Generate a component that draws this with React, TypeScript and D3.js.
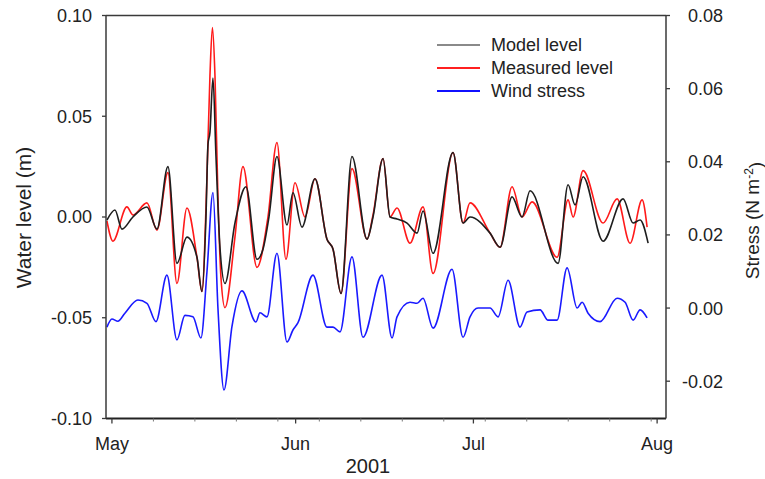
import React from "react";
import * as d3 from "d3";

const W = 765;
const H = 479;

// Axis ticks / labels
const leftTicks = [-0.1, -0.05, 0.0, 0.05, 0.1];
const rightTicks = [-0.02, 0.0, 0.02, 0.04, 0.06, 0.08];
const monthStarts = ["2001-05-01", "2001-06-01", "2001-07-01", "2001-08-01"];
const monthLabels = ["May", "Jun", "Jul", "Aug"];
const yearLabel = "2001";
const seriesNames = ["Model level", "Measured level", "Wind stress"];

// [days since 1 May 2001, value]
const modelLevel: [number, number][] = [
  [-0.84, -0.0015], [0.51, 0.0035], [1.69, -0.006], [3.54, 0.0], [5.91, 0.005],
  [7.6, -0.006], [9.45, 0.025], [10.97, -0.023], [12.66, -0.01], [14.35, -0.02],
  [15.19, -0.037], [15.87, 0.0], [16.21, 0.036], [16.54, 0.042], [17.05, 0.069],
  [17.56, 0.03], [18.23, -0.015], [19.08, -0.033], [20.76, -0.003], [22.62, 0.015],
  [24.48, -0.021], [25.49, -0.016], [26.5, 0.0], [27.85, 0.03], [29.54, -0.004],
  [30.55, 0.012], [32.07, -0.005], [34.27, 0.019], [36.29, -0.011], [37.31, -0.016],
  [38.66, -0.038], [40.51, 0.03], [43.05, -0.011], [44.06, 0.0], [45.75, 0.029],
  [46.93, 0.0], [48.11, -0.001], [49.8, -0.003], [51.49, -0.008], [52.5, 0.003],
  [54.19, -0.018], [57.56, 0.032], [59.25, -0.003], [60.43, 0.0], [63.81, -0.008],
  [65.5, -0.015], [67.52, 0.01], [69.21, 0.0], [70.56, 0.013], [75.29, -0.023],
  [76.97, 0.016], [78.16, 0.006], [79.51, 0.02], [82.88, -0.012], [86.26, 0.009],
  [87.95, -0.003], [89.13, -0.0015], [90.48, -0.013],
];

const measuredLevel: [number, number][] = [
  [-0.84, -0.002], [0.17, -0.012], [2.53, 0.005], [3.54, 0.001], [5.91, 0.007],
  [7.6, -0.0065], [9.45, 0.022], [10.97, -0.033], [12.66, 0.0045], [14.35, -0.02],
  [15.19, -0.037], [16.04, 0.02], [16.54, 0.07], [16.96, 0.094], [17.39, 0.07],
  [17.89, 0.01], [18.4, -0.03], [19.08, -0.045], [20.76, -0.01], [22.11, 0.025],
  [24.48, -0.025], [26.33, 0.0], [27.85, 0.037], [29.37, -0.021], [30.89, 0.017],
  [32.58, 0.0], [34.27, 0.019], [36.29, -0.011], [37.31, -0.016], [38.66, -0.038],
  [40.51, 0.024], [43.05, -0.011], [44.06, 0.001], [45.75, 0.029], [46.93, 0.0],
  [48.11, 0.0045], [50.3, -0.013], [52.5, 0.005], [54.19, -0.028], [57.56, 0.032],
  [59.25, -0.003], [60.43, 0.007], [63.81, -0.008], [65.5, -0.015], [67.52, 0.015],
  [69.21, 0.0], [70.9, 0.0075], [75.12, -0.02], [76.97, 0.0085], [77.82, 0.0],
  [79.51, 0.023], [82.88, -0.003], [85.25, 0.009], [87.44, -0.013], [89.47, 0.0085],
  [90.31, -0.005],
];

const windStress: [number, number][] = [
  [-0.84, -0.0052], [0, -0.003], [1.01, -0.0036], [2.19, -0.0014], [4.39, 0.0022],
  [5.91, 0.0013], [7.43, -0.0037], [9.28, 0.009], [10.97, -0.0087], [12.32, -0.002],
  [13.67, -0.0024], [15.02, -0.0082], [16.04, 0.01], [17.05, 0.0316], [17.89, 0.0],
  [18.91, -0.0224], [20.26, -0.005], [21.94, 0.0047], [24.31, -0.0038], [24.98, -0.0013],
  [26.16, -0.0024], [27.85, 0.015], [29.54, -0.0093], [30.55, -0.006], [31.4, -0.004],
  [33.93, 0.009], [36.29, -0.0052], [37.31, -0.0052], [38.49, -0.0065], [40.51, 0.014],
  [42.37, -0.008], [45.58, 0.009], [47.27, -0.0082], [48.11, -0.0024], [50.3, 0.0016],
  [51.49, 0.0013], [52.5, 0.0027], [54.19, -0.0055], [57.39, 0.0106], [59.25, -0.008],
  [60.43, -0.0024], [61.78, 0.0], [63.81, 0.0], [65.16, -0.0024], [66.85, 0.0076],
  [68.87, -0.0052], [70.05, -0.0011], [72.25, -0.0005], [73.6, -0.0033], [75.12, -0.0033],
  [76.81, 0.011], [78.5, 0.0], [79.34, 0.0016], [80.35, -0.0014], [82.38, -0.0037],
  [85.25, 0.0027], [86.6, 0.0016], [87.95, -0.0033], [89.13, -0.0005], [90.31, -0.0027],
];

const startDate = new Date(2001, 4, 1);
const toDate = (d: number) => new Date(startDate.getTime() + d * 864e5);

const FONT = "'Liberation Sans', Arial, Helvetica, sans-serif";
const TXT = "#222";
const AX = "#3a3a3a";

export default function App() {
  const left = 106, right = 666, top = 15.5, bottom = 418.5;
  const x = d3
    .scaleTime()
    .domain([new Date(2001, 3, 30), new Date(2001, 7, 2, 12)])
    .range([left, right]);
  const yL = d3.scaleLinear().domain([-0.1, 0.1]).range([bottom, top]);
  const yR = d3.scaleLinear().domain([-0.0302, 0.08]).range([bottom, top]);

  const lineL = d3
    .line<[number, number]>()
    .x((d) => x(toDate(d[0])))
    .y((d) => yL(d[1]))
    .curve(d3.curveMonotoneX);
  const lineR = d3
    .line<[number, number]>()
    .x((d) => x(toDate(d[0])))
    .y((d) => yR(d[1]))
    .curve(d3.curveMonotoneX);

  const weekly = d3.range(7, 93, 7).map(toDate);
  const months = monthStarts.map((s) => {
    const [yy, mm, dd] = s.split("-").map(Number);
    return new Date(yy, mm - 1, dd);
  });

  const f2 = d3.format(".2f");
  const fmt = (v: number) => f2(v).replace("\u2212", "-");
  const legendColors = ["#8a8a8a", "#ff2020", "#1010ff"];
  const legendY = [45, 68, 91];

  return (
    <svg width={W} height={H} style={{ display: "block", position: "absolute", left: 0, top: 0 }}>
      <rect width={W} height={H} fill="#fff" />

      {/* series */}
      <path d={lineR(windStress) || ""} fill="none" stroke="#1a1aff" strokeWidth={1.6} />
      <path d={lineL(measuredLevel) || ""} fill="none" stroke="#ff1a1a" strokeWidth={1.6} />
      <path d={lineL(modelLevel) || ""} fill="none" stroke="#1e1e1e" strokeWidth={1.6} />

      {/* frame */}
      <line x1={left} x2={right} y1={top} y2={top} stroke={AX} strokeWidth={1.5} />
      <line x1={left} x2={right} y1={bottom} y2={bottom} stroke="#222" strokeWidth={2} />
      <line x1={left} x2={left} y1={top} y2={bottom} stroke={AX} strokeWidth={1.5} />
      <line x1={right} x2={right} y1={top} y2={bottom} stroke={AX} strokeWidth={1.5} />

      {/* left axis */}
      {leftTicks.map((t) => (
        <g key={"l" + t}>
          <line x1={left - 4} x2={left} y1={yL(t)} y2={yL(t)} stroke={AX} strokeWidth={1.3} />
          <text x={92} y={yL(t)} dy="0.36em" textAnchor="end" fontSize={18} fontFamily={FONT} fill={TXT}>
            {fmt(t)}
          </text>
        </g>
      ))}

      {/* right axis */}
      {rightTicks.map((t) => (
        <g key={"r" + t}>
          <line x1={right} x2={right + 4} y1={yR(t)} y2={yR(t)} stroke={AX} strokeWidth={1.3} />
          <text x={723} y={yR(t)} dy="0.36em" textAnchor="end" fontSize={18} fontFamily={FONT} fill={TXT}>
            {fmt(t)}
          </text>
        </g>
      ))}

      {/* bottom axis */}
      {weekly.map((d, i) => (
        <line key={"w" + i} x1={x(d)} x2={x(d)} y1={bottom} y2={bottom + 3} stroke="#777" strokeWidth={1} />
      ))}
      {months.map((d, i) => (
        <g key={"m" + i}>
          <line x1={x(d)} x2={x(d)} y1={bottom} y2={bottom + 5} stroke={AX} strokeWidth={1.3} />
          <text x={x(d)} y={444} dy="0.36em" textAnchor="middle" fontSize={18} fontFamily={FONT} fill={TXT}>
            {monthLabels[i]}
          </text>
        </g>
      ))}
      <text x={368} y={466} dy="0.36em" textAnchor="middle" fontSize={20} fontFamily={FONT} fill={TXT}>
        {yearLabel}
      </text>

      {/* axis titles */}
      <text
        transform={`translate(23,${(143 + 292) / 2}) rotate(-90)`}
        dy="0.36em"
        textAnchor="middle"
        fontSize={21}
        fontFamily={FONT}
        fill={TXT}
      >
        Water level (m)
      </text>
      <text
        transform={`translate(752,${(157 + 284) / 2}) rotate(-90)`}
        dy="0.36em"
        textAnchor="middle"
        fontSize={19}
        fontFamily={FONT}
        fill={TXT}
      >
        Stress (N m
        <tspan dy="-0.45em" fontSize={12}>-2</tspan>
        <tspan dy="0.45em">)</tspan>
      </text>

      {/* legend */}
      {seriesNames.map((n, i) => (
        <g key={"lg" + i}>
          <line x1={437} x2={480} y1={legendY[i]} y2={legendY[i]} stroke={legendColors[i]} strokeWidth={2} />
          <text x={491} y={legendY[i]} dy="0.36em" fontSize={18} fontFamily={FONT} fill={TXT}>
            {n}
          </text>
        </g>
      ))}
    </svg>
  );
}
